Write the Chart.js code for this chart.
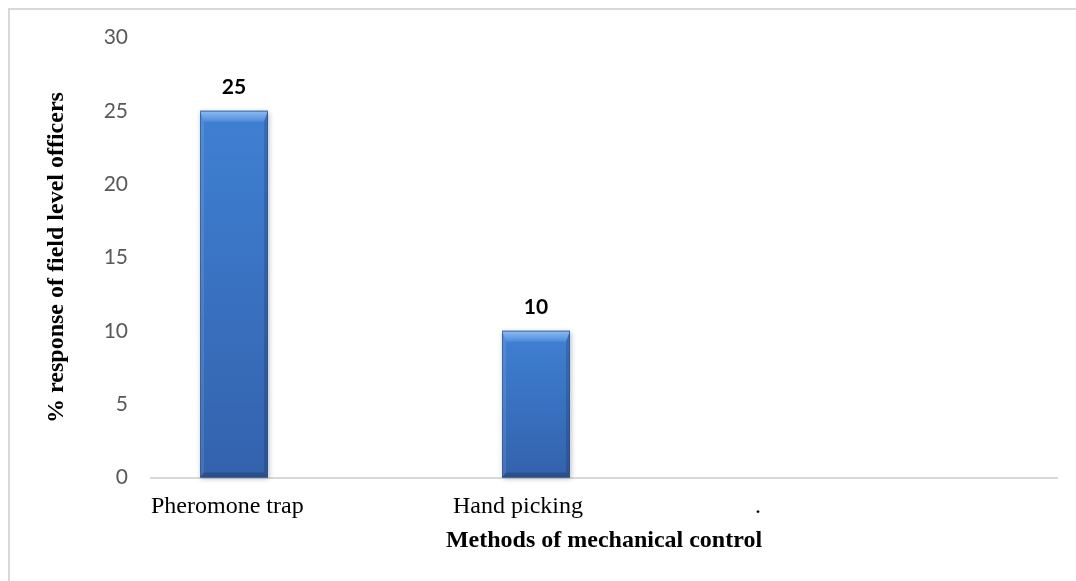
<!DOCTYPE html>
<html>
<head>
<meta charset="utf-8">
<script src="https://cdn.jsdelivr.net/npm/chart.js@4/dist/chart.umd.min.js"></script>
<style>
  html, body { margin: 0; padding: 0; background: #ffffff; }
  #wrap { width: 1076px; height: 581px; }
</style>
</head>
<body>
<div id="wrap"><canvas id="chart" width="1076" height="581"></canvas></div>
<script>
// Methods of mechanical control and the share of field level officers using each
const categories = ['Pheromone trap', 'Hand picking', '.'];
const responsePct = [25, 10, null];
const seriesTwo = [null, null, null];
const seriesThree = [null, null, null];
const yTickValues = [0, 5, 10, 15, 20, 25, 30];

const SERIF = '"Liberation Serif", "Times New Roman", serif';
const SANS = 'Lato, "Open Sans", sans-serif';

// Light frame around the whole chart
const framePlugin = {
  id: 'frame',
  beforeDraw(chart) {
    const c = chart.ctx;
    c.save();
    c.strokeStyle = '#d9d9d9';
    c.lineWidth = 2;
    c.strokeRect(9, 9, chart.width + 20, chart.height + 20);
    c.restore();
  }
};

// Bevelled bar faces with a soft drop shadow
const bevelPlugin = {
  id: 'bevel',
  afterDatasetDraw(chart, args) {
    if (args.index !== 0) return;
    const c = chart.ctx;
    const meta = args.meta;
    meta.data.forEach((el, i) => {
      if (responsePct[i] == null) return;
      const { x, y, width, base } = el.getProps(['x', 'y', 'width', 'base'], true);
      const L = x - width / 2, R = x + width / 2, T = y, B = base;
      const tb = 11, sb = 4, bb = 5;
      c.save();
      // shadow
      c.shadowColor = 'rgba(0,0,0,0.28)';
      c.shadowBlur = 5;
      c.shadowOffsetX = 1;
      c.shadowOffsetY = 1;
      const body = c.createLinearGradient(0, T, 0, B);
      body.addColorStop(0, '#3f80d3');
      body.addColorStop(1, '#3362ad');
      c.fillStyle = body;
      c.fillRect(L, T, width, B - T);
      c.shadowColor = 'transparent';
      // top bevel
      const top = c.createLinearGradient(0, T, 0, T + tb);
      top.addColorStop(0, '#8dbdf3');
      top.addColorStop(1, '#4c8bda');
      c.fillStyle = top;
      c.beginPath();
      c.moveTo(L, T); c.lineTo(R, T); c.lineTo(R - sb, T + tb); c.lineTo(L + sb, T + tb); c.closePath();
      c.fill();
      // left bevel
      c.fillStyle = 'rgba(255,255,255,0.10)';
      c.beginPath();
      c.moveTo(L, T); c.lineTo(L + sb, T + tb); c.lineTo(L + sb, B - bb); c.lineTo(L, B); c.closePath();
      c.fill();
      // right bevel
      c.fillStyle = 'rgba(0,0,0,0.14)';
      c.beginPath();
      c.moveTo(R, T); c.lineTo(R - sb, T + tb); c.lineTo(R - sb, B - bb); c.lineTo(R, B); c.closePath();
      c.fill();
      // bottom bevel
      c.fillStyle = 'rgba(0,0,0,0.18)';
      c.beginPath();
      c.moveTo(L, B); c.lineTo(L + sb, B - bb); c.lineTo(R - sb, B - bb); c.lineTo(R, B); c.closePath();
      c.fill();
      // outline
      c.strokeStyle = 'rgba(40,80,140,0.6)';
      c.lineWidth = 1;
      c.strokeRect(L + 0.5, T + 0.5, width - 1, B - T - 1);
      c.restore();
    });
  }
};

// Value labels above the bars
const valueLabelPlugin = {
  id: 'valueLabels',
  afterDatasetsDraw(chart) {
    const c = chart.ctx;
    const meta = chart.getDatasetMeta(0);
    c.save();
    c.font = 'bold 21px ' + SANS;
    c.fillStyle = '#000000';
    c.textAlign = 'center';
    c.textBaseline = 'middle';
    meta.data.forEach((el, i) => {
      const v = responsePct[i];
      if (v == null) return;
      c.fillText(String(v), el.x, el.y - 24);
    });
    c.restore();
  }
};

const CHART_RIGHT = 1057;
const CHART_LEFT = 151;
const categoryWidth = (CHART_RIGHT - CHART_LEFT) / categories.length;

new Chart(document.getElementById('chart'), {
  type: 'bar',
  data: {
    labels: categories,
    datasets: [
      { label: 'Response', data: responsePct, backgroundColor: '#3a72c0', borderWidth: 0 },
      { label: 'Series 2', data: seriesTwo, backgroundColor: '#c0504d', borderWidth: 0 },
      { label: 'Series 3', data: seriesThree, backgroundColor: '#9bbb59', borderWidth: 0 }
    ]
  },
  options: {
    responsive: false,
    animation: false,
    devicePixelRatio: 1,
    layout: { padding: { top: 37.5, right: 1076 - CHART_RIGHT, bottom: 0, left: 0 } },
    datasets: {
      bar: { categoryPercentage: 204 / 302, barPercentage: 1.0 }
    },
    plugins: {
      legend: { display: false },
      tooltip: { enabled: false }
    },
    scales: {
      x: {
        grid: { display: false, drawTicks: false },
        border: { display: true, color: '#d9d9d9', width: 2 },
        ticks: {
          color: '#000000',
          font: { family: SERIF, size: 24 },
          align: 'start',
          labelOffset: -categoryWidth / 2,
          padding: 15,
          maxRotation: 0,
          autoSkip: false
        },
        title: {
          display: true,
          text: 'Methods of mechanical control',
          color: '#000000',
          font: { family: SERIF, size: 24, weight: 'bold' },
          padding: { top: 0, bottom: 26 }
        },
        afterFit(scale) { scale.height = 581 - 477.5; }
      },
      y: {
        min: 0,
        max: 30,
        grid: { display: false, drawTicks: false },
        border: { display: false },
        afterBuildTicks(scale) { scale.ticks = yTickValues.map(v => ({ value: v })); },
        ticks: {
          color: '#595959',
          font: { family: SANS, size: 21 },
          padding: 23
        },
        title: {
          display: true,
          text: '% response of field level officers',
          color: '#000000',
          font: { family: SERIF, size: 24, weight: 'bold' },
          padding: { top: 42, bottom: 0 }
        },
        afterFit(scale) { scale.width = CHART_LEFT; }
      }
    }
  },
  plugins: [framePlugin, bevelPlugin, valueLabelPlugin]
});
</script>
</body>
</html>
